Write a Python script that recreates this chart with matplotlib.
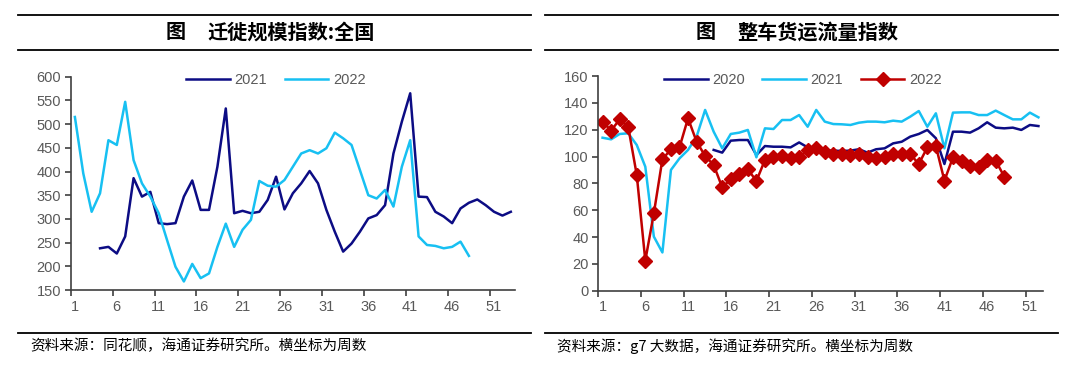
import numpy as np
import matplotlib
matplotlib.use('Agg')
import matplotlib.pyplot as plt
from matplotlib.lines import Line2D

plt.rcParams['font.family'] = ['Noto Sans CJK SC', 'DejaVu Sans']

# left chart: 迁徙规模指数 (weeks 1..53)
mig_2021_weeks = list(range(4, 54))
mig_2021 = [238, 241, 227, 263, 386, 347, 357, 291, 289, 291, 347, 381, 319, 319, 410,
            533, 312, 317, 312, 315, 340, 389, 320, 354, 375, 401, 375, 319, 273, 231,
            248, 273, 301, 308, 329, 438, 505, 565, 347, 346, 315, 305, 291, 322, 334,
            341, 329, 315, 307, 315]
mig_2022_weeks = list(range(1, 49))
mig_2022 = [515, 396, 315, 354, 466, 456, 547, 424, 375, 347, 312, 255, 199, 168, 205,
            175, 185, 241, 290, 241, 277, 298, 380, 370, 368, 382, 410, 438, 445, 438,
            449, 482, 470, 456, 403, 350, 343, 361, 326, 410, 466, 263, 245, 243, 238,
            241, 252, 222]

# right chart: 整车货运流量指数 (weeks 1..52)
fr_2020_weeks = list(range(14, 53))
fr_2020 = [104.9, 102.9, 111.8, 112.3, 112.3, 101.1, 107.8, 107.3, 107.3, 106.8, 110.5,
           106.8, 104.9, 104.4, 104.4, 104.1, 104.4, 105.4, 102.9, 105.4, 106.1, 109.8,
           111.0, 114.8, 116.8, 119.8, 113.6, 94.4, 118.5, 118.5, 117.8, 121.0, 125.5,
           121.5, 121.0, 121.5, 119.8, 123.5, 122.7]
fr_2021_weeks = list(range(1, 53))
fr_2021 = [114.0, 112.8, 116.8, 117.3, 108.6, 92.4, 40.3, 28.5, 90.0, 98.6, 104.9, 114.8,
           134.7, 118.5, 106.1, 116.8, 117.8, 119.8, 99.4, 121.0, 120.5, 127.2, 127.2,
           130.9, 122.2, 134.7, 126.0, 124.2, 124.0, 123.5, 125.2, 126.0, 126.0, 125.5,
           126.7, 126.0, 129.7, 133.9, 122.2, 132.2, 106.1, 132.7, 132.9, 132.9, 130.9,
           130.9, 134.2, 130.9, 127.7, 127.7, 132.7, 129.2]
fr_2022_weeks = list(range(1, 49))
fr_2022 = [126.0, 119.3, 127.7, 122.2, 86.2, 22.4, 57.7, 97.9, 105.4, 106.8, 128.5, 111.1,
           100.4, 93.7, 77.0, 83.0, 86.7, 90.4, 81.8, 97.4, 99.6, 100.1, 99.0, 99.4, 104.9,
           106.1, 103.6, 101.9, 101.6, 101.1, 101.6, 99.9, 99.1, 99.4, 101.9, 101.6, 101.9,
           94.4, 106.8, 107.8, 82.0, 99.4, 96.9, 92.9, 91.9, 97.4, 96.9, 85.0]

NAVY = '#0C0C84'
CYAN = '#17C0F2'
RED = '#C00000'
TICK_C = '#595959'

fig = plt.figure(figsize=(10.76, 3.77), dpi=100)
W, H = 1076, 377


def px_axes(x0, y0, x1, y1):
    return fig.add_axes([x0 / W, 1 - y1 / H, (x1 - x0) / W, (y1 - y0) / H])


def style(ax, n_weeks):
    for s in ['top', 'right']:
        ax.spines[s].set_visible(False)
    for s in ['left', 'bottom']:
        ax.spines[s].set_color('#404040')
        ax.spines[s].set_linewidth(1.2)
    ax.set_xlim(0.5, n_weeks + 0.5)
    ax.set_xticks(range(1, n_weeks + 1, 5))
    ax.set_xticks(np.arange(0.5, n_weeks, 5), minor=True)
    ax.tick_params(axis='x', which='major', length=0, pad=7)
    ax.tick_params(axis='x', which='minor', length=4, width=1.2, color='#404040')
    ax.tick_params(axis='y', length=4, width=1.2, color='#404040', pad=3)
    for lab in ax.get_xticklabels() + ax.get_yticklabels():
        lab.set_fontfamily('Liberation Sans')
        lab.set_fontsize(10.5)
        lab.set_color(TICK_C)


# left
ax1 = px_axes(70.7, 76.7, 515, 290)
ax1.plot(mig_2021_weeks, mig_2021, color=NAVY, lw=1.8, label='2021')
ax1.plot(mig_2022_weeks, mig_2022, color=CYAN, lw=1.8, label='2022')
ax1.set_ylim(150, 600)
ax1.set_yticks(range(150, 601, 50))
style(ax1, 53)
leg1 = ax1.legend(loc='center', bbox_to_anchor=(0.462, 0.985), ncol=2, frameon=False,
                  handlelength=3.0, columnspacing=1.2, handletextpad=0.3,
                  prop={'family': 'Liberation Sans', 'size': 10.5})
for t in leg1.get_texts():
    t.set_color(TICK_C)

# right
ax2 = px_axes(598.3, 76, 1042.7, 290.7)
ax2.plot(fr_2020_weeks, fr_2020, color=NAVY, lw=1.8, label='2020')
ax2.plot(fr_2021_weeks, fr_2021, color=CYAN, lw=1.8, label='2021')
ax2.plot(fr_2022_weeks, fr_2022, color=RED, lw=1.8, marker='D', markersize=7,
         label='2022')
ax2.set_ylim(0, 160)
ax2.set_yticks(range(0, 161, 20))
style(ax2, 52)
leg2 = ax2.legend(loc='center', bbox_to_anchor=(0.46, 0.981), ncol=3, frameon=False,
                  handlelength=3.0, columnspacing=1.2, handletextpad=0.3,
                  prop={'family': 'Liberation Sans', 'size': 10.5})
for t in leg2.get_texts():
    t.set_color(TICK_C)

# title rules and footers
for (x0, x1) in [(18, 531), (545, 1058)]:
    for y in (15, 50, 333):
        fig.add_artist(Line2D([x0 / W, x1 / W], [1 - y / H, 1 - y / H],
                              color='black', lw=1.3))

fig.text(166 / W, 1 - 32 / H, '图', fontsize=14.5, fontweight='bold',
         va='center', ha='left')
fig.text(207 / W, 1 - 32 / H, '迁徙规模指数:全国', fontsize=14.5, fontweight='bold',
         va='center', ha='left')
fig.text(696 / W, 1 - 32 / H, '图', fontsize=14.5, fontweight='bold',
         va='center', ha='left')
fig.text(737 / W, 1 - 32 / H, '整车货运流量指数', fontsize=14.5, fontweight='bold',
         va='center', ha='left')

fig.text(30 / W, 1 - 346 / H, '资料来源：同花顺，海通证券研究所。横坐标为周数',
         fontsize=10.5, va='center', ha='left')
fig.text(557 / W, 1 - 346 / H, '资料来源：g7 大数据，海通证券研究所。横坐标为周数',
         fontsize=10.5, va='center', ha='left')

fig.savefig('out.png', dpi=100)
